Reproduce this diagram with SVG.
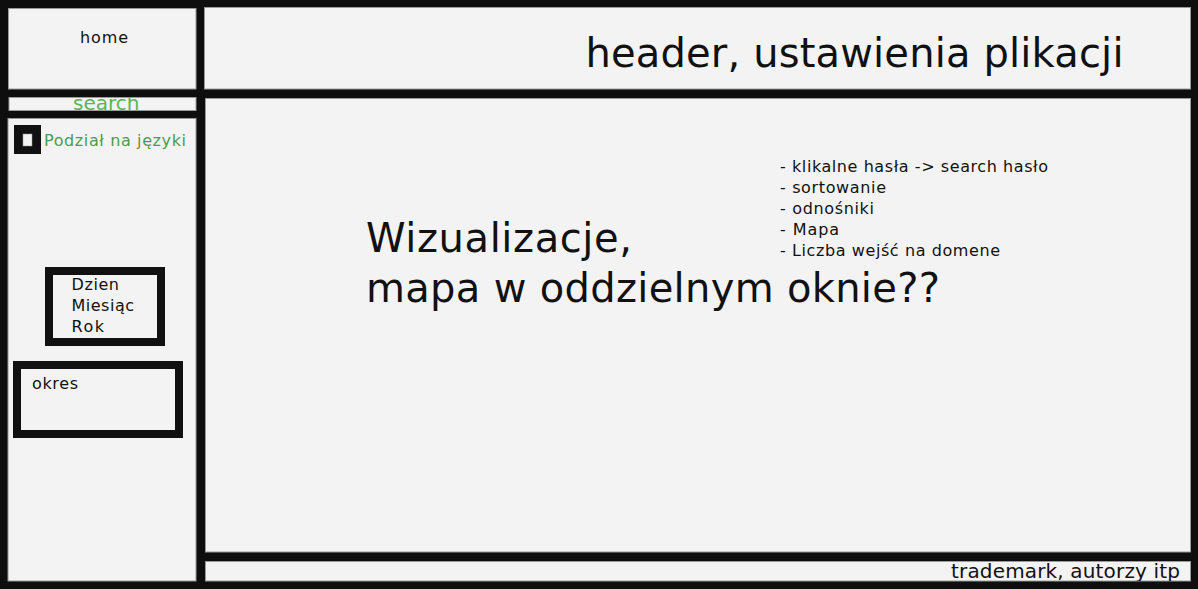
<svg xmlns="http://www.w3.org/2000/svg" width="1198" height="589" viewBox="0 0 1198 589">
  <style>
    .panel { fill: #f3f3f3; stroke: #9a9a9a; stroke-width: 1; }
    .box { fill: #f3f3f3; stroke: #111111; stroke-width: 8; }
    text { font-family: "DejaVu Sans", Verdana, sans-serif; fill: #111111; }
    .s16 { font-size: 16px; }
    .big { font-size: 40px; }
    .green1 { fill: #57b657; font-size: 20px; }
    .green2 { fill: #4c9c4c; font-size: 16px; }
  </style>
  <defs>
    <clipPath id="clipSearch"><rect x="9" y="97.5" width="187" height="13"/></clipPath>
    <clipPath id="clipFooter"><rect x="205.5" y="561.5" width="985" height="19.5"/></clipPath>
  </defs>
  <rect x="0" y="0" width="1198" height="589" fill="#0e0e0e"/>

  <g id="home">
    <rect class="panel" x="8.5" y="8.5" width="187.5" height="80.5"/>
    <text class="s16" x="80" y="43" textLength="48" lengthAdjust="spacing">home</text>
  </g>

  <g id="header">
    <rect class="panel" x="204.5" y="7.5" width="986" height="81.5"/>
    <text class="big" x="585.5" y="67" textLength="538" lengthAdjust="spacing">header, ustawienia plikacji</text>
  </g>

  <g id="search">
    <rect class="panel" x="9" y="97.5" width="187" height="13"/>
    <text class="green1" x="73" y="110" clip-path="url(#clipSearch)">search</text>
  </g>

  <g id="sidebar">
    <rect class="panel" x="8" y="118.5" width="188" height="462.5"/>
  </g>

  <g id="checkbox">
    <rect x="14" y="125" width="27" height="29" fill="#111111"/>
    <rect x="23" y="134" width="9" height="12" fill="#f3f3f3" stroke="#9a9a9a" stroke-width="0.5"/>
    <text class="green2" x="44" y="146" textLength="142" lengthAdjust="spacing">Podział na języki</text>
  </g>

  <g id="period-unit">
    <rect class="box" x="49" y="271" width="112" height="71"/>
    <text class="s16" x="71.5" y="290" textLength="47.5" lengthAdjust="spacing">Dzien</text>
    <text class="s16" x="71.5" y="311" textLength="62.5" lengthAdjust="spacing">Miesiąc</text>
    <text class="s16" x="71.5" y="332" textLength="32.5" lengthAdjust="spacing">Rok</text>
  </g>

  <g id="okres">
    <rect class="box" x="17" y="365" width="162" height="69"/>
    <text class="s16" x="32" y="389" textLength="46" lengthAdjust="spacing">okres</text>
  </g>

  <g id="main">
    <rect class="panel" x="205.5" y="98.5" width="985" height="453.5"/>
    <text class="big" x="366" y="252" textLength="266" lengthAdjust="spacing">Wizualizacje,</text>
    <text class="big" x="366" y="302" textLength="574" lengthAdjust="spacing">mapa w oddzielnym oknie??</text>
    <text class="s16" x="780" y="172" textLength="268" lengthAdjust="spacing">- klikalne hasła -&gt; search hasło</text>
    <text class="s16" x="780" y="193" textLength="106" lengthAdjust="spacing">- sortowanie</text>
    <text class="s16" x="780" y="214" textLength="94" lengthAdjust="spacing">- odnośniki</text>
    <text class="s16" x="780" y="235" textLength="59" lengthAdjust="spacing">- Mapa</text>
    <text class="s16" x="780" y="256" textLength="220" lengthAdjust="spacing">- Liczba wejść na domene</text>
  </g>

  <g id="footer">
    <rect class="panel" x="205.5" y="561.5" width="985" height="19.5"/>
    <text x="951" y="578" font-size="20" textLength="229" lengthAdjust="spacing" clip-path="url(#clipFooter)">trademark, autorzy itp</text>
  </g>
</svg>
